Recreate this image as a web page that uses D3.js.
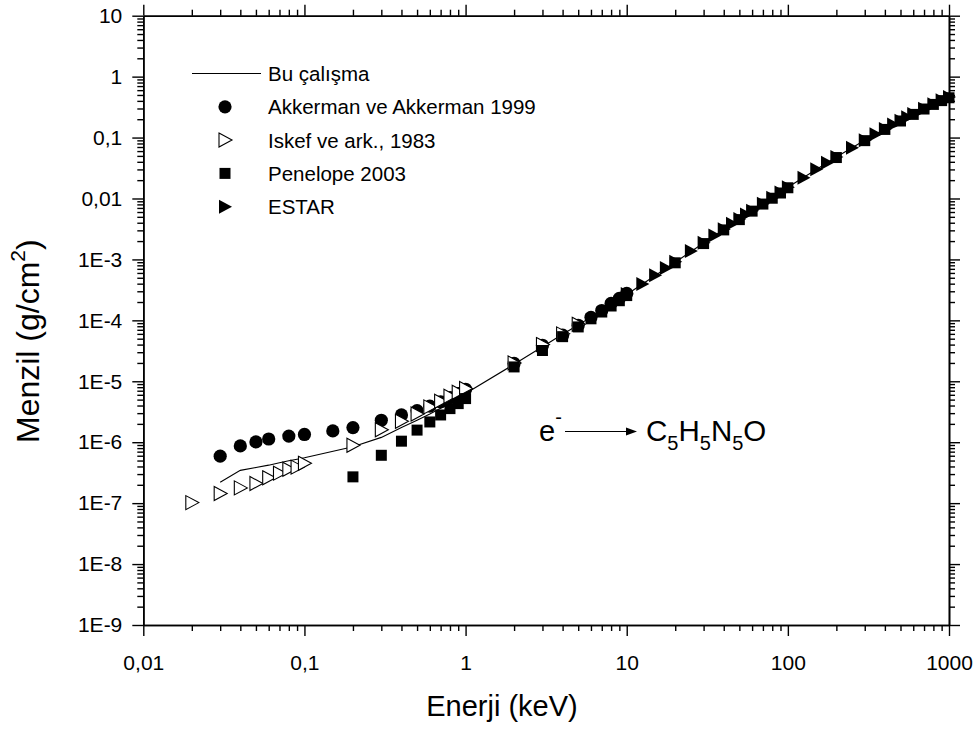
<!DOCTYPE html>
<html>
<head>
<meta charset="utf-8">
<script src="https://cdn.jsdelivr.net/npm/d3@7"></script>
<style>
  html, body { margin: 0; padding: 0; background: #fff; }
  text { font-family: "Liberation Sans", Arial, sans-serif; fill: #000; }
</style>
</head>
<body>
<svg id="chart" width="980" height="730"></svg>
<script>
// Electron range in guanine (C5H5N5O) versus energy
const xTickValues = [0.01, 0.1, 1, 10, 100, 1000];
const xTickLabels = ["0,01", "0,1", "1", "10", "100", "1000"];
const yTickValues = [10, 1, 0.1, 0.01, 1e-3, 1e-4, 1e-5, 1e-6, 1e-7, 1e-8, 1e-9];
const yTickLabels = ["10", "1", "0,1", "0,01", "1E-3", "1E-4", "1E-5", "1E-6", "1E-7", "1E-8", "1E-9"];

// Bu çalışma (line)
const lineE = [0.03, 0.04, 0.05, 0.06, 0.07, 0.08, 0.09, 0.1, 0.2, 0.3, 0.4, 0.5, 0.6, 0.7, 0.8, 0.9, 1,
  2, 3, 4, 5, 6, 7, 8, 9, 10, 20, 30, 40, 50, 60, 70, 80, 90, 100,
  200, 300, 400, 500, 600, 700, 800, 900, 1000];
const lineR = [2.2e-7, 3.45e-7, 3.85e-7, 4.2e-7, 4.6e-7, 4.95e-7, 5.25e-7, 5.55e-7, 8.4e-7, 1.2e-6, 1.75e-6, 2.3e-6, 2.9e-6, 3.6e-6, 4.4e-6, 5.3e-6, 6.3e-6,
  1.9e-5, 3.7e-5, 5.9e-5, 8.4e-5, 1.13e-4, 1.45e-4, 1.82e-4, 2.2e-4, 2.65e-4, 9.0e-4, 1.86e-3, 3.1e-3, 4.6e-3, 6.3e-3, 8.2e-3, 1.03e-2, 1.25e-2, 1.53e-2,
  4.8e-2, 9.0e-2, 0.138, 0.19, 0.243, 0.297, 0.353, 0.408, 0.45];

// Akkerman ve Akkerman 1999
const akkE = [0.03, 0.04, 0.05, 0.06, 0.08, 0.1, 0.15, 0.2, 0.3, 0.4, 0.5, 0.6, 0.7, 0.8, 0.9, 1,
  2, 3, 4, 5, 6, 7, 8, 9, 10];
const akkR = [5.9e-7, 8.7e-7, 1.01e-6, 1.13e-6, 1.26e-6, 1.34e-6, 1.53e-6, 1.74e-6, 2.29e-6, 2.8e-6, 3.3e-6, 3.9e-6, 4.6e-6, 5.4e-6, 6.3e-6, 7.4e-6,
  1.96e-5, 3.9e-5, 5.7e-5, 8.3e-5, 1.12e-4, 1.45e-4, 1.9e-4, 2.3e-4, 2.77e-4];

// Iskef ve ark., 1983
const iskE = [0.02, 0.03, 0.04, 0.05, 0.06, 0.07, 0.08, 0.09, 0.1, 0.2, 0.3, 0.4, 0.5, 0.6, 0.7, 0.8, 0.9, 1,
  2, 3, 4, 5];
const iskR = [1.02e-7, 1.44e-7, 1.78e-7, 2.1e-7, 2.6e-7, 3.1e-7, 3.6e-7, 3.9e-7, 4.5e-7, 8.9e-7, 1.6e-6, 2.2e-6, 2.9e-6, 3.8e-6, 4.7e-6, 5.7e-6, 6.6e-6, 7.6e-6,
  2.0e-5, 4.0e-5, 6.0e-5, 8.6e-5];

// Penelope 2003
const penE = [0.2, 0.3, 0.4, 0.5, 0.6, 0.7, 0.8, 0.9, 1,
  2, 3, 4, 5, 6, 7, 8, 9, 10, 20, 30, 40, 50, 60, 70, 80, 90, 100,
  200, 300, 400, 500, 600, 700, 800, 900, 1000];
const penR = [2.7e-7, 6.1e-7, 1.04e-6, 1.58e-6, 2.15e-6, 2.8e-6, 3.56e-6, 4.3e-6, 5.2e-6,
  1.72e-5, 3.2e-5, 5.4e-5, 7.8e-5, 1.06e-4, 1.37e-4, 1.72e-4, 2.1e-4, 2.55e-4, 8.8e-4, 1.82e-3, 3.05e-3, 4.5e-3, 6.2e-3, 8.1e-3, 1.01e-2, 1.23e-2, 1.5e-2,
  4.7e-2, 8.9e-2, 0.136, 0.187, 0.24, 0.294, 0.35, 0.404, 0.45];

// ESTAR
const estE = [10, 12.5, 15, 17.5, 20, 25, 30, 35, 40, 45, 50, 55, 60, 70, 80, 90, 100,
  125, 150, 175, 200, 250, 300, 350, 400, 450, 500, 550, 600, 700, 800, 900, 1000];
const estR = [2.7e-4, 3.95e-4, 5.5e-4, 7.2e-4, 9.15e-4, 1.37e-3, 1.88e-3, 2.47e-3, 3.13e-3, 3.85e-3, 4.62e-3, 5.45e-3, 6.32e-3, 8.2e-3, 1.03e-2, 1.25e-2, 1.53e-2,
  2.2e-2, 3.03e-2, 3.87e-2, 4.8e-2, 6.8e-2, 9.0e-2, 0.113, 0.138, 0.164, 0.189, 0.216, 0.243, 0.297, 0.353, 0.409, 0.465];

const legendLabels = ["Bu çalışma", "Akkerman ve Akkerman 1999", "Iskef ve ark., 1983", "Penelope 2003", "ESTAR"];

const svg = d3.select("#chart");
const plotLeft = 143.3, plotRight = 949, plotTop = 15.7, plotBottom = 625;

const x = d3.scaleLog().domain([0.01, 1000]).range([plotLeft, plotRight]);
const y = d3.scaleLog().domain([1e-9, 10]).range([plotBottom, plotTop]);

// minor tick values (2..9 within each decade)
const minorX = [], minorY = [];
for (let d = -2; d < 3; d++) for (let k = 2; k <= 9; k++) minorX.push(k * Math.pow(10, d));
for (let d = -9; d < 1; d++) for (let k = 2; k <= 9; k++) minorY.push(k * Math.pow(10, d));

const fmtX = v => xTickLabels[xTickValues.indexOf(v)];
const fmtY = v => yTickLabels[yTickValues.indexOf(v)];

function styleAxis(g) {
  g.select(".domain").attr("stroke", "#000").attr("stroke-width", 1.6);
  g.selectAll(".tick line").attr("stroke", "#000").attr("stroke-width", 1.4);
}

// bottom axis
svg.append("g").attr("transform", `translate(0,${plotBottom})`)
  .call(d3.axisBottom(x).tickValues(minorX).tickSize(6).tickFormat("").tickSizeOuter(0)).call(styleAxis);
const gxb = svg.append("g").attr("transform", `translate(0,${plotBottom})`)
  .call(d3.axisBottom(x).tickValues(xTickValues).tickSize(11).tickFormat(fmtX).tickSizeOuter(0).tickPadding(19)).call(styleAxis);
gxb.selectAll(".tick text").attr("font-size", 21).attr("font-family", "Liberation Sans, Arial, sans-serif");

// top axis
svg.append("g").attr("transform", `translate(0,${plotTop})`)
  .call(d3.axisTop(x).tickValues(minorX).tickSize(6).tickFormat("").tickSizeOuter(0)).call(styleAxis);
svg.append("g").attr("transform", `translate(0,${plotTop})`)
  .call(d3.axisTop(x).tickValues(xTickValues).tickSize(11).tickFormat("").tickSizeOuter(0)).call(styleAxis);

// left axis
svg.append("g").attr("transform", `translate(${plotLeft},0)`)
  .call(d3.axisLeft(y).tickValues(minorY).tickSize(6).tickFormat("").tickSizeOuter(0)).call(styleAxis);
const gyl = svg.append("g").attr("transform", `translate(${plotLeft},0)`)
  .call(d3.axisLeft(y).tickValues(yTickValues).tickSize(11).tickFormat(fmtY).tickSizeOuter(0).tickPadding(10)).call(styleAxis);
gyl.selectAll(".tick text").attr("font-size", 21).attr("font-family", "Liberation Sans, Arial, sans-serif");

// right axis
svg.append("g").attr("transform", `translate(${plotRight},0)`)
  .call(d3.axisRight(y).tickValues(minorY).tickSize(6).tickFormat("").tickSizeOuter(0)).call(styleAxis);
svg.append("g").attr("transform", `translate(${plotRight},0)`)
  .call(d3.axisRight(y).tickValues(yTickValues).tickSize(11).tickFormat("").tickSizeOuter(0)).call(styleAxis);

// axis titles
svg.append("text").attr("x", 502).attr("y", 716)
  .attr("text-anchor", "middle").attr("font-size", 29).text("Enerji (keV)");
const yt = svg.append("text").attr("transform", "translate(39,443) rotate(-90)")
  .attr("text-anchor", "start").attr("font-size", 32);
yt.append("tspan").text("Menzil (g/cm");
yt.append("tspan").attr("font-size", 21).attr("dy", -14).text("2");
yt.append("tspan").attr("dy", 14).text(")");

// markers
const sym = {
  circle: d3.symbol().type(d3.symbolCircle).size(Math.PI * 6.6 * 6.6),
  square: d3.symbol().type(d3.symbolSquare).size(11 * 11)
};
function triPath(cx, cy) {
  // right-pointing triangle, 13 px wide, 14 px tall
  return `M${cx - 6},${cy - 7}L${cx + 7},${cy}L${cx - 6},${cy + 7}Z`;
}

// line
const lineData = lineE.map((e, i) => [e, lineR[i]]);
svg.append("path").datum(lineData)
  .attr("fill", "none").attr("stroke", "#000").attr("stroke-width", 1.1)
  .attr("d", d3.line().x(d => x(d[0])).y(d => y(d[1])));

// Akkerman circles
svg.append("g").selectAll("path").data(akkE.map((e, i) => [e, akkR[i]])).join("path")
  .attr("transform", d => `translate(${x(d[0])},${y(d[1])})`).attr("d", sym.circle).attr("fill", "#000");

// Iskef open triangles
svg.append("g").selectAll("path").data(iskE.map((e, i) => [e, iskR[i]])).join("path")
  .attr("d", d => triPath(x(d[0]), y(d[1])))
  .attr("fill", "#fff").attr("stroke", "#000").attr("stroke-width", 1.1);

// Penelope squares
svg.append("g").selectAll("path").data(penE.map((e, i) => [e, penR[i]])).join("path")
  .attr("transform", d => `translate(${x(d[0])},${y(d[1])})`).attr("d", sym.square).attr("fill", "#000");

// ESTAR filled triangles
svg.append("g").selectAll("path").data(estE.map((e, i) => [e, estR[i]])).join("path")
  .attr("d", d => triPath(x(d[0]), y(d[1]))).attr("fill", "#000");

// legend
const legX = 225, legText = 268, legY0 = 73.5, legDy = 33.3;
const lg = svg.append("g");
lg.append("line").attr("x1", 192).attr("x2", 261).attr("y1", legY0).attr("y2", legY0)
  .attr("stroke", "#000").attr("stroke-width", 1.1);
lg.append("path").attr("transform", `translate(${legX},${legY0 + legDy})`).attr("d", sym.circle).attr("fill", "#000");
lg.append("path").attr("d", triPath(legX, legY0 + 2 * legDy)).attr("fill", "#fff").attr("stroke", "#000").attr("stroke-width", 1.1);
lg.append("path").attr("transform", `translate(${legX},${legY0 + 3 * legDy})`).attr("d", sym.square).attr("fill", "#000");
lg.append("path").attr("d", triPath(legX, legY0 + 4 * legDy)).attr("fill", "#000");
legendLabels.forEach((t, i) => {
  lg.append("text").attr("x", legText).attr("y", legY0 + i * legDy)
    .attr("dominant-baseline", "central").attr("font-size", 20.5).text(t);
});

// reaction annotation
const ann = svg.append("g");
const ae = ann.append("text").attr("x", 539).attr("y", 441).attr("font-size", 29);
ae.append("tspan").text("e");
ae.append("tspan").attr("font-size", 20).attr("dy", -17).text("-");
ann.append("line").attr("x1", 565).attr("x2", 628).attr("y1", 431.5).attr("y2", 431.5)
  .attr("stroke", "#000").attr("stroke-width", 1.2);
ann.append("path").attr("d", "M637,431.5L626,427.5L626,435.5Z").attr("fill", "#000");
const formula = ann.append("text").attr("x", 646).attr("y", 441).attr("font-size", 29.5);
[["C", false], ["5", true], ["H", false], ["5", true], ["N", false], ["5", true], ["O", false]].forEach(([s, sub], i, arr) => {
  const prevSub = i > 0 && arr[i - 1][1];
  const t = formula.append("tspan").text(s);
  if (sub) t.attr("font-size", 20).attr("dy", 9);
  else if (prevSub) t.attr("dy", -9);
});
</script>
</body>
</html>
